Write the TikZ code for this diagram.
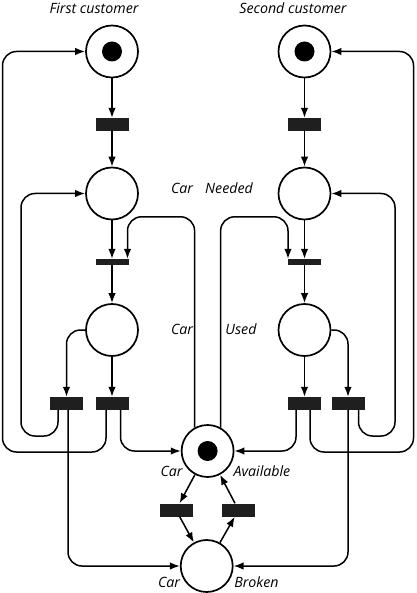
\documentclass[tikz,border=0pt]{standalone}
\usepackage{fontspec}
\setmainfont{Open Sans}
\usetikzlibrary{arrows.meta}
\begin{document}
\begin{tikzpicture}[x=1pt,y=-1pt,
  place/.style={circle,draw,line width=1.7pt,minimum size=52pt,inner sep=0pt},
  token/.style={circle,fill=black,minimum size=20pt,inner sep=0pt},
  trans/.style={rectangle,fill=black!88,minimum width=33pt,minimum height=13pt,inner sep=0pt},
  thintrans/.style={trans,minimum height=6pt},
  arr/.style={line width=1.5pt,-{Latex[length=10pt,width=7.5pt]},rounded corners=14pt},
  lbl/.style={font=\fontsize{14.2}{16}\selectfont\itshape,anchor=base,inner sep=0pt}]
\useasboundingbox (0,0) rectangle (416,593);
% places
\node[place] (p1) at (112,51.5) {};
\node[token] (k1) at (p1) {};
\node[place] (p2) at (304.5,51.5) {};
\node[token] (k2) at (p2) {};
\node[place] (p3) at (112,193.5) {};
\node[place] (p5) at (304.5,193.5) {};
\node[place] (p4) at (112,330) {};
\node[place] (p6) at (304.5,330) {};
\node[place] (avail) at (207.6,451) {};
\node[token] (k3) at (avail) {};
\node[place] (broken) at (206.7,566) {};
% transitions
\node[trans] (t1) at (112,124.5) {};
\node[trans] (t2) at (304.5,124.5) {};
\node[thintrans] (t3) at (112,262) {};
\node[thintrans] (t4) at (304.5,262) {};
\node[trans] (tl1) at (66.5,403.5) {};
\node[trans] (tl2) at (112,403.5) {};
\node[trans] (tr1) at (304.5,403.5) {};
\node[trans] (tr2) at (348,403.5) {};
\node[trans] (tbl) at (176,510) {};
\node[trans] (tbr) at (238.5,510) {};
% labels
\node[lbl] (l1) at (94,14) {First customer};
\node[lbl] (l2) at (293,14) {Second customer};
\node[lbl] (l3) at (182,194) {Car};
\node[lbl] (l4) at (229,194) {Needed};
\node[lbl] (l5) at (182,334) {Car};
\node[lbl] (l6) at (241,334) {Used};
\node[lbl] (l7) at (171.5,476) {Car};
\node[lbl] (l8) at (262,476) {Available};
\node[lbl] (l9) at (169,587) {Car};
\node[lbl] (l10) at (256.5,587) {Broken};
% straight arcs
\draw[arr] (p1) -- (t1);
\draw[arr] (t1) -- (p3);
\draw[arr] (p3) -- (t3);
\draw[arr] (t3) -- (p4);
\draw[arr] (p4) -- (tl2);
\draw[arr] (p2) -- (t2);
\draw[arr] (t2) -- (p5);
\draw[arr] (p5) -- (t4);
\draw[arr] (t4) -- (p6);
\draw[arr] (p6) -- (tr1);
\draw[arr] (p4.west) -| (tl1.north);
\draw[arr] (p6.east) -| (tr2.north);
% car available to t3/t4
\draw[arr] (avail.119) |- ([xshift=15.5,yshift=42]t3.north) -- ([xshift=15.5]t3.north);
\draw[arr] (avail.61) |- ([xshift=-16.5,yshift=42]t4.north) -- ([xshift=-16.5]t4.north);
% left outputs
\draw[arr] ([xshift=-8.5]tl1.south) |- (21,436) |- (p3.west);
\draw[arr] ([xshift=1.5]tl1.south) |- (broken.west);
\draw[arr] ([xshift=-6]tl2.south) |- (2.5,452) |- (p1.west);
\draw[arr] ([xshift=8.5]tl2.south) |- (avail.west);
% right outputs
\draw[arr] ([xshift=-8.5]tr1.south) |- (avail.east);
\draw[arr] ([xshift=5.5]tr1.south) |- (413.5,452) |- (p2.east);
\draw[arr] (tr2.south) |- (broken.east);
\draw[arr] ([xshift=10.5]tr2.south) |- (395,436) |- (p5.east);
% repair cycle
\draw[arr] (avail) -- (tbl);
\draw[arr] (tbl) -- (broken);
\draw[arr] (broken) -- (tbr);
\draw[arr] (tbr) -- (avail);
\end{tikzpicture}
\end{document}
